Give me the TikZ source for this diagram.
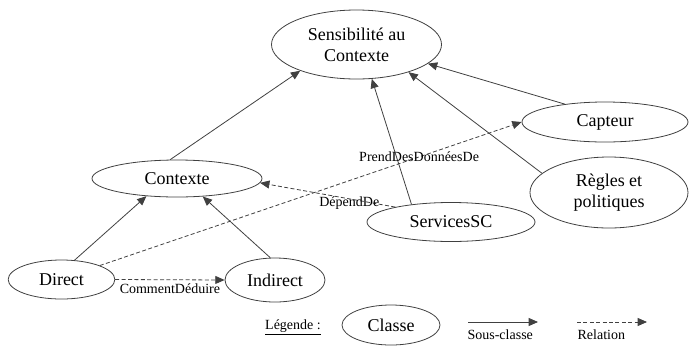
\documentclass[tikz,border=0pt]{standalone}
\usepackage{fontspec}
\setmainfont{Liberation Serif}
\usetikzlibrary{shapes.geometric,arrows.meta}
\begin{document}
\begin{tikzpicture}[x=0.75pt, y=-0.75pt,
      classe/.style={ellipse, draw=black!75, line width=0.6pt, inner sep=0pt, align=center,
        font=\fontsize{13.5}{16}\selectfont},
      souscl/.style={draw=black!75, line width=0.6pt, -{Triangle[length=7pt,width=6pt]}},
      relat/.style={souscl, dash pattern=on 3pt off 1.8pt},
      etiq/.style={font=\fontsize{10.5}{12}\selectfont, inner sep=1pt}]
      \useasboundingbox (0,0) rectangle (689,347);
      \node[classe, minimum width=127.5pt, minimum height=51.75pt] (sens) at (356.5,44.5) {Sensibilité au\\Contexte};
      \node[classe, minimum width=124.5pt, minimum height=30pt] (capteur) at (605,122) {Capteur};
      \node[classe, minimum width=118.5pt, minimum height=53.25pt] (regles) at (609,192.5) {Règles et\\politiques};
      \node[classe, minimum width=127.5pt, minimum height=27.75pt] (contexte) at (177,178.5) {Contexte};
      \node[classe, minimum width=126pt, minimum height=29.25pt] (services) at (451,222) {ServicesSC};
      \node[classe, minimum width=80pt, minimum height=29.25pt] (direct) at (61.5,279.5) {Direct};
      \node[classe, minimum width=75pt, minimum height=33pt] (indirect) at (275,280) {Indirect};

      \draw[souscl] (contexte.110) -- (sens.205);
      \draw[souscl] (services.156) -- (sens.-66);
      \draw[souscl] (regles.164) -- (sens.-28);
      \draw[souscl] (capteur.156) -- (sens.-15);
      \draw[souscl] (direct.56) -- (contexte.-150);
      \draw[souscl] (indirect.102) -- (contexte.-35);

      \draw[relat] (direct.20) -- node[etiq, pos=0.757] (lprend) {PrendDesDonnéesDe} (capteur.west);
      \draw[relat] (services.165) -- node[etiq, pos=0.34, yshift=-3pt] (ldepend) {DépendDe} (contexte.-3);
      \draw[relat] (direct.east) -- node[etiq, below=2pt] (lcomment) {CommentDéduire} (indirect.west);

      \node[etiq] (legende) at (293,327) {\underline{Légende :}};
      \node[classe, minimum width=73.5pt, minimum height=30pt] (exclasse) at (391,325) {Classe};
      \coordinate (ssdeb) at (468,322);
      \coordinate (ssfin) at (538,322);
      \coordinate (reldeb) at (577,322);
      \coordinate (relfin) at (647,322);
      \draw[souscl] (ssdeb) -- (ssfin);
      \draw[relat] (reldeb) -- (relfin);
      \node[etiq, anchor=north west] (lsouscl) at (466,328) {Sous-classe};
      \node[etiq, anchor=north west] (lrelat) at (576,328) {Relation};
    \end{tikzpicture}
\end{document}
